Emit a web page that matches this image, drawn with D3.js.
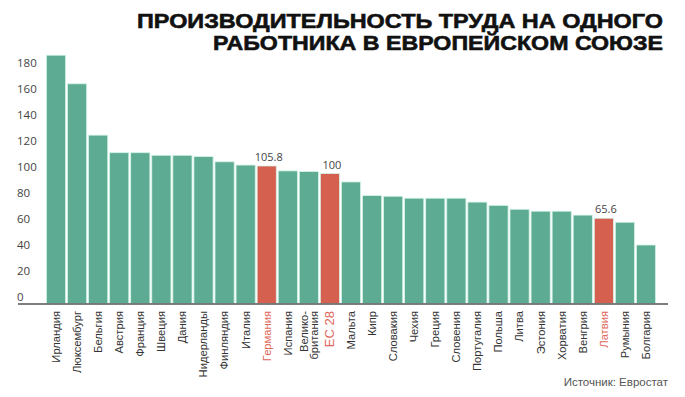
<!DOCTYPE html>
<html><head><meta charset="utf-8">
<script src="https://cdn.jsdelivr.net/npm/d3@7"></script>
<style>body{margin:0;background:#fff;}svg{display:block;}</style>
</head><body>
<script>
const countries = ["Ирландия","Люксембург","Бельгия","Австрия","Франция","Швеция","Дания","Нидерланды","Финляндия","Италия","Германия","Испания","Велико-|британия","ЕС 28","Мальта","Кипр","Словакия","Чехия","Греция","Словения","Португалия","Польша","Литва","Эстония","Хорватия","Венгрия","Латвия","Румыния","Болгария"];
const values = [191,169,129.5,116,116,114,114,113,109,106.5,105.8,102,101.5,100,93.5,83,82.5,81,81,81,78,75.5,72.5,71,71,68,65.6,62.5,45];
const highlighted = ["Германия","ЕС 28","Латвия"];
const labelled = {"Германия":"105.8","ЕС 28":"100","Латвия":"65.6"};
const yTicks = [0,20,40,60,80,100,120,140,160,180];
const titleLines = ["ПРОИЗВОДИТЕЛЬНОСТЬ ТРУДА НА ОДНОГО","РАБОТНИКА В ЕВРОПЕЙСКОМ СОЮЗЕ"];
const source = "Источник: Евростат";

const W=685,H=397;
const svg=d3.select("body").append("svg").attr("width",W).attr("height",H);
const green="#5dab93", red="#d6604f";

const x=d3.scaleBand().domain(countries).range([46,656]).paddingInner(0.09).paddingOuter(0.02);
const y=d3.scaleLinear().domain([0,190]).range([303.5,56.5]);

// title
const titleWidths=[526,450];
svg.append("g").selectAll("text").data(titleLines).join("text")
  .attr("x",663).attr("y",(d,i)=>28+i*21.5)
  .attr("text-anchor","end")
  .attr("textLength",(d,i)=>titleWidths[i]).attr("lengthAdjust","spacingAndGlyphs")
  .attr("font-family","'Liberation Sans',Arial,sans-serif").attr("font-weight","bold")
  .attr("font-size",20.5).attr("fill","#111")
  .attr("stroke","#111").attr("stroke-width",0.6).text(d=>d);

// bars
svg.append("g").selectAll("rect").data(countries).join("rect")
  .attr("x",d=>x(d)).attr("width",x.bandwidth())
  .attr("y",(d,i)=>y(values[i])).attr("height",(d,i)=>y(0)-y(values[i]))
  .attr("fill",d=>highlighted.includes(d)?red:green)
  .attr("stroke","#d4f3e6").attr("stroke-width",0.8);

// value labels
svg.append("g").selectAll("text").data(countries.filter(d=>labelled[d])).join("text")
  .attr("x",d=>x(d)+x.bandwidth()/2+2).attr("y",d=>y(values[countries.indexOf(d)])-5)
  .attr("text-anchor","middle").attr("font-family","'Open Sans',sans-serif")
  .attr("font-size",11).attr("fill","#444").text(d=>labelled[d]);

// y axis (labels only)
const ya=svg.append("g").attr("transform","translate(17,0)")
  .call(d3.axisLeft(y).tickValues(yTicks).tickSize(0).tickPadding(0));
ya.select(".domain").remove();
ya.selectAll("text").attr("text-anchor","start").attr("dy","-0.3em").attr("x",0)
  .attr("font-family","'Open Sans',sans-serif").attr("font-size",11.5).attr("fill","#444");

// baseline
svg.append("line").attr("x1",18).attr("x2",668).attr("y1",y(0)+0.5).attr("y2",y(0)+0.5)
  .attr("stroke","#555").attr("stroke-width",1.5);

// x labels
const xl=svg.append("g").selectAll("g").data(countries).join("g")
  .attr("transform",d=>`translate(${x(d)+x.bandwidth()/2},311) rotate(-90)`);
xl.each(function(d){
  const g=d3.select(this);
  const parts=d.split("|");
  const isEU = d==="ЕС 28";
  const fs = isEU?13:11.2;
  parts.forEach((p,i)=>{
    g.append("text").attr("x",0).attr("y",(i-(parts.length-1)/2)*10.5+ fs*0.35)
      .attr("text-anchor","end").attr("font-family","'Liberation Sans',Arial,sans-serif")
      .attr("font-size",fs).attr("fill",highlighted.includes(d)?"#e0675a":"#333").text(p);
  });
});

// source
svg.append("text").attr("x",668).attr("y",386).attr("text-anchor","end")
  .attr("font-family","'Liberation Sans',Arial,sans-serif").attr("font-size",11.5)
  .attr("fill","#555").text(source);
</script>
</body></html>
